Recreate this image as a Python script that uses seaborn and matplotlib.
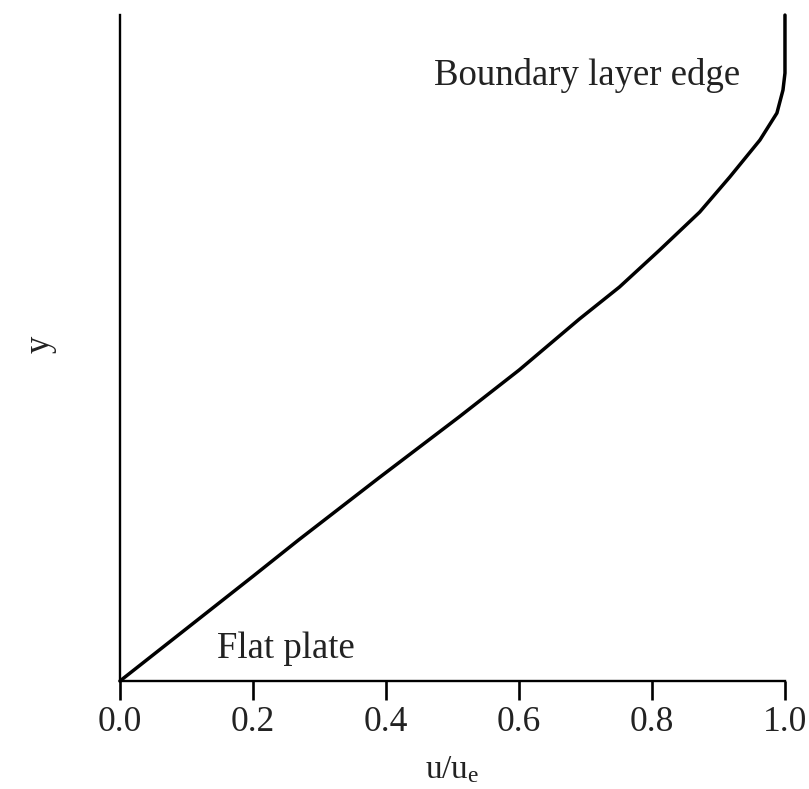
import matplotlib
matplotlib.use("Agg")
import matplotlib.pyplot as plt
import seaborn as sns
import pandas as pd

# Velocity profile through the boundary layer over a flat plate
u_ratio = [0.0, 0.2006, 0.2685, 0.3891, 0.5098, 0.6003, 0.6908, 0.7511,
           0.8115, 0.8718, 0.9170, 0.9623, 0.9879, 0.9970, 1.0, 1.0]
height = [0.0, 0.1577, 0.2117, 0.3048, 0.3964, 0.4670, 0.5435, 0.5916,
          0.6471, 0.7042, 0.7568, 0.8123, 0.8529, 0.8874, 0.9129, 1.0]
x_ticks = [0.0, 0.2, 0.4, 0.6, 0.8, 1.0]
x_tick_labels = ["0.0", "0.2", "0.4", "0.6", "0.8", "1.0"]

profile = pd.DataFrame({"u": u_ratio, "y": height})

sns.set_theme(style="white")
plt.rcParams["font.family"] = ["Liberation Serif", "DejaVu Serif"]
plt.rcParams["mathtext.fontset"] = "custom"
plt.rcParams["mathtext.rm"] = "Liberation Serif"
plt.rcParams["mathtext.it"] = "Liberation Serif:italic"

fig = plt.figure(figsize=(8.09, 7.89), dpi=100)
ax = fig.add_axes([0.1483, 0.1369, 0.822, 0.844])

sns.lineplot(data=profile, x="u", y="y", sort=False, estimator=None,
             color="black", linewidth=2.5, ax=ax, clip_on=False)

ax.set_xlim(0, 1)
ax.set_ylim(0, 1)
ax.set_xticks(x_ticks)
ax.set_xticklabels(x_tick_labels)
ax.set_yticks([])

for side in ("top", "right"):
    ax.spines[side].set_visible(False)
for side in ("left", "bottom"):
    ax.spines[side].set_color("black")
    ax.spines[side].set_linewidth(1.7)

ax.tick_params(axis="x", bottom=True, direction="out", length=14, width=1.9,
               color="black", labelsize=25.5, pad=4, labelcolor="#222222")
ax.set_xlabel(r"u/u$_{\mathrm{e}}$", fontsize=24, color="#222222", labelpad=11)
ax.set_ylabel("y", fontsize=25, color="#222222")
ax.yaxis.set_label_coords(-0.095, 0.505)

ax.text(0.25, 0.048, "Flat plate", ha="center", va="center",
        fontsize=26.5, color="#222222")
ax.text(0.703, 0.91, "Boundary layer edge", ha="center", va="center",
        fontsize=26.5, color="#222222")

fig.savefig("out.png", dpi=100, facecolor="white")
